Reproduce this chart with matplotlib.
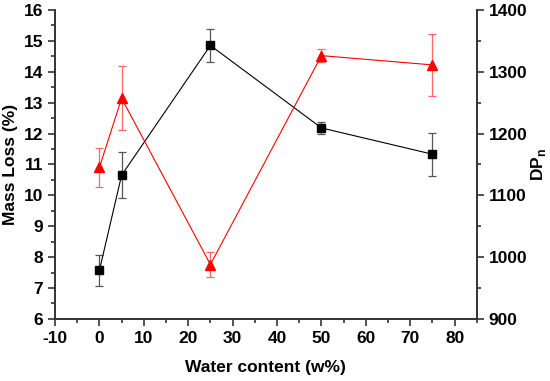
import matplotlib

matplotlib.use("Agg")
import matplotlib.pyplot as plt
from matplotlib.ticker import MultipleLocator

# --- data -----------------------------------------------------------
water = [0, 5, 25, 50, 75]
mass_loss = [7.57, 10.65, 14.85, 12.18, 11.33]
mass_loss_err = [0.50, 0.75, 0.52, 0.20, 0.69]
dpn = [1145, 1257, 988, 1326, 1311]
dpn_err = [32, 52, 21, 10, 50]

plt.rcParams["font.family"] = ["Liberation Sans", "DejaVu Sans"]
plt.rcParams["font.weight"] = "bold"
plt.rcParams["axes.unicode_minus"] = False
plt.rcParams["mathtext.fontset"] = "custom"
plt.rcParams["mathtext.bf"] = "Liberation Sans:bold"

fig = plt.figure(figsize=(5.5, 3.81), dpi=100)
ax = fig.add_axes([0.1, 0.163, 0.767, 0.811])
ax2 = ax.twinx()

ax.errorbar(water, mass_loss, yerr=mass_loss_err, color="black", lw=0.8,
            marker="s", ms=6, ecolor="#555555", elinewidth=0.9, capsize=3,
            capthick=0.9, zorder=3)
ax2.errorbar(water, dpn, yerr=dpn_err, color="red", lw=0.8,
             marker="^", ms=7, ecolor="#ff6666", elinewidth=0.9, capsize=3,
             capthick=0.9, zorder=3)

ax.set_xlim(-10, 85)
ax.set_ylim(6, 16)
ax2.set_ylim(900, 1400)

ax.xaxis.set_major_locator(MultipleLocator(10))
ax.xaxis.set_minor_locator(MultipleLocator(5))
ax.yaxis.set_major_locator(MultipleLocator(1))
ax.yaxis.set_minor_locator(MultipleLocator(0.5))
ax2.yaxis.set_major_locator(MultipleLocator(100))
ax2.yaxis.set_minor_locator(MultipleLocator(50))

for a in (ax, ax2):
    a.spines["top"].set_visible(False)
    for s in a.spines.values():
        s.set_linewidth(1.2)
        s.set_color("#333333")
    a.tick_params(which="major", direction="out", length=5, width=1.2,
                  labelsize=12.5, colors="#333333", labelcolor="black")
    a.tick_params(which="minor", direction="out", length=3, width=1.2,
                  colors="#333333")

ax.set_xlim(-10, 85)
ax.set_xlabel("Water content (w%)", fontsize=12.5, fontweight="bold", labelpad=10)
ax.set_ylabel("Mass Loss (%)", fontsize=12.5, fontweight="bold", labelpad=4)
ax2.set_ylabel("DP$_\\mathbf{n}$", fontsize=12.5, fontweight="bold", labelpad=1)

fig.savefig("out.png", dpi=100)
